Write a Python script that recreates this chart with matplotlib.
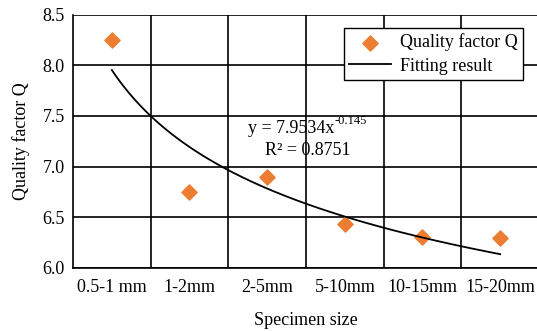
import matplotlib.pyplot as plt
import numpy as np

plt.rcParams['font.family'] = ['Liberation Serif', 'DejaVu Serif']

# data
sizes = ['0.5-1 mm', '1-2mm', '2-5mm', '5-10mm', '10-15mm', '15-20mm']
q_values = [8.25, 6.745, 6.90, 6.43, 6.305, 6.295]
# fitted power law shown on the chart: y = a * x^b
fit_a = 7.9534
fit_b = -0.145
r2 = 0.8751

fig = plt.figure(figsize=(5.37, 3.31), dpi=100)
ax = fig.add_axes([73 / 537, 1 - 267.7 / 331, 466 / 537, 253 / 331])

x = np.arange(1, len(sizes) + 1)
ax.scatter(x, q_values, marker='D', s=60, color='#ED7D31', zorder=3,
           label='Quality factor Q')

# trendline over the category positions (Excel-style power fit)
xf = np.linspace(1, len(sizes), 200)
ax.plot(xf, fit_a * xf ** fit_b, color='black', lw=1.3, zorder=3,
        label='Fitting result')

ax.set_xlim(0.5, len(sizes) + 0.5)
ax.set_ylim(6.0, 8.5)
ax.set_yticks(np.arange(6.0, 8.51, 0.5))
ax.set_yticklabels(['%.1f' % v for v in np.arange(6.0, 8.51, 0.5)])
ax.set_xticks(x)
ax.set_xticklabels(sizes)
ax.set_xticks(np.arange(1.5, len(sizes) + 0.5, 1), minor=True)
ax.tick_params(which='both', length=0, labelsize=13)
ax.tick_params(axis='x', pad=8)
ax.tick_params(axis='y', pad=6)

ax.grid(True, which='major', axis='y', color='black', lw=1.2)
ax.grid(True, which='minor', axis='x', color='black', lw=1.2)
ax.set_axisbelow(True)
for side in ['top', 'right']:
    ax.spines[side].set_visible(False)
for side in ['left', 'bottom']:
    ax.spines[side].set_linewidth(1.2)

ax.set_xlabel('Specimen size', fontsize=13, labelpad=12)
ax.set_ylabel('Quality factor Q', fontsize=13, labelpad=9)

eq = ax.text(2.75, 7.38, 'y = %.4fx' % fit_a, ha='left', va='center',
             fontsize=13)
ax.annotate('%.3f' % fit_b, xy=(1, 1), xycoords=eq, xytext=(0.5, 3),
            textcoords='offset points', ha='left', va='top', fontsize=9)
ax.text(2.97, 7.16, 'R\u00b2 = %.4f' % r2, ha='left', va='center',
        fontsize=13)

leg = ax.legend(loc='upper right', bbox_to_anchor=(0.966, 0.947), fontsize=13,
                frameon=True, fancybox=False, edgecolor='black',
                framealpha=1, borderpad=0.3, handlelength=2.3,
                handletextpad=0.5, labelspacing=0.35, borderaxespad=0)
leg.get_frame().set_linewidth(1.0)

fig.savefig('out.png', dpi=100)
